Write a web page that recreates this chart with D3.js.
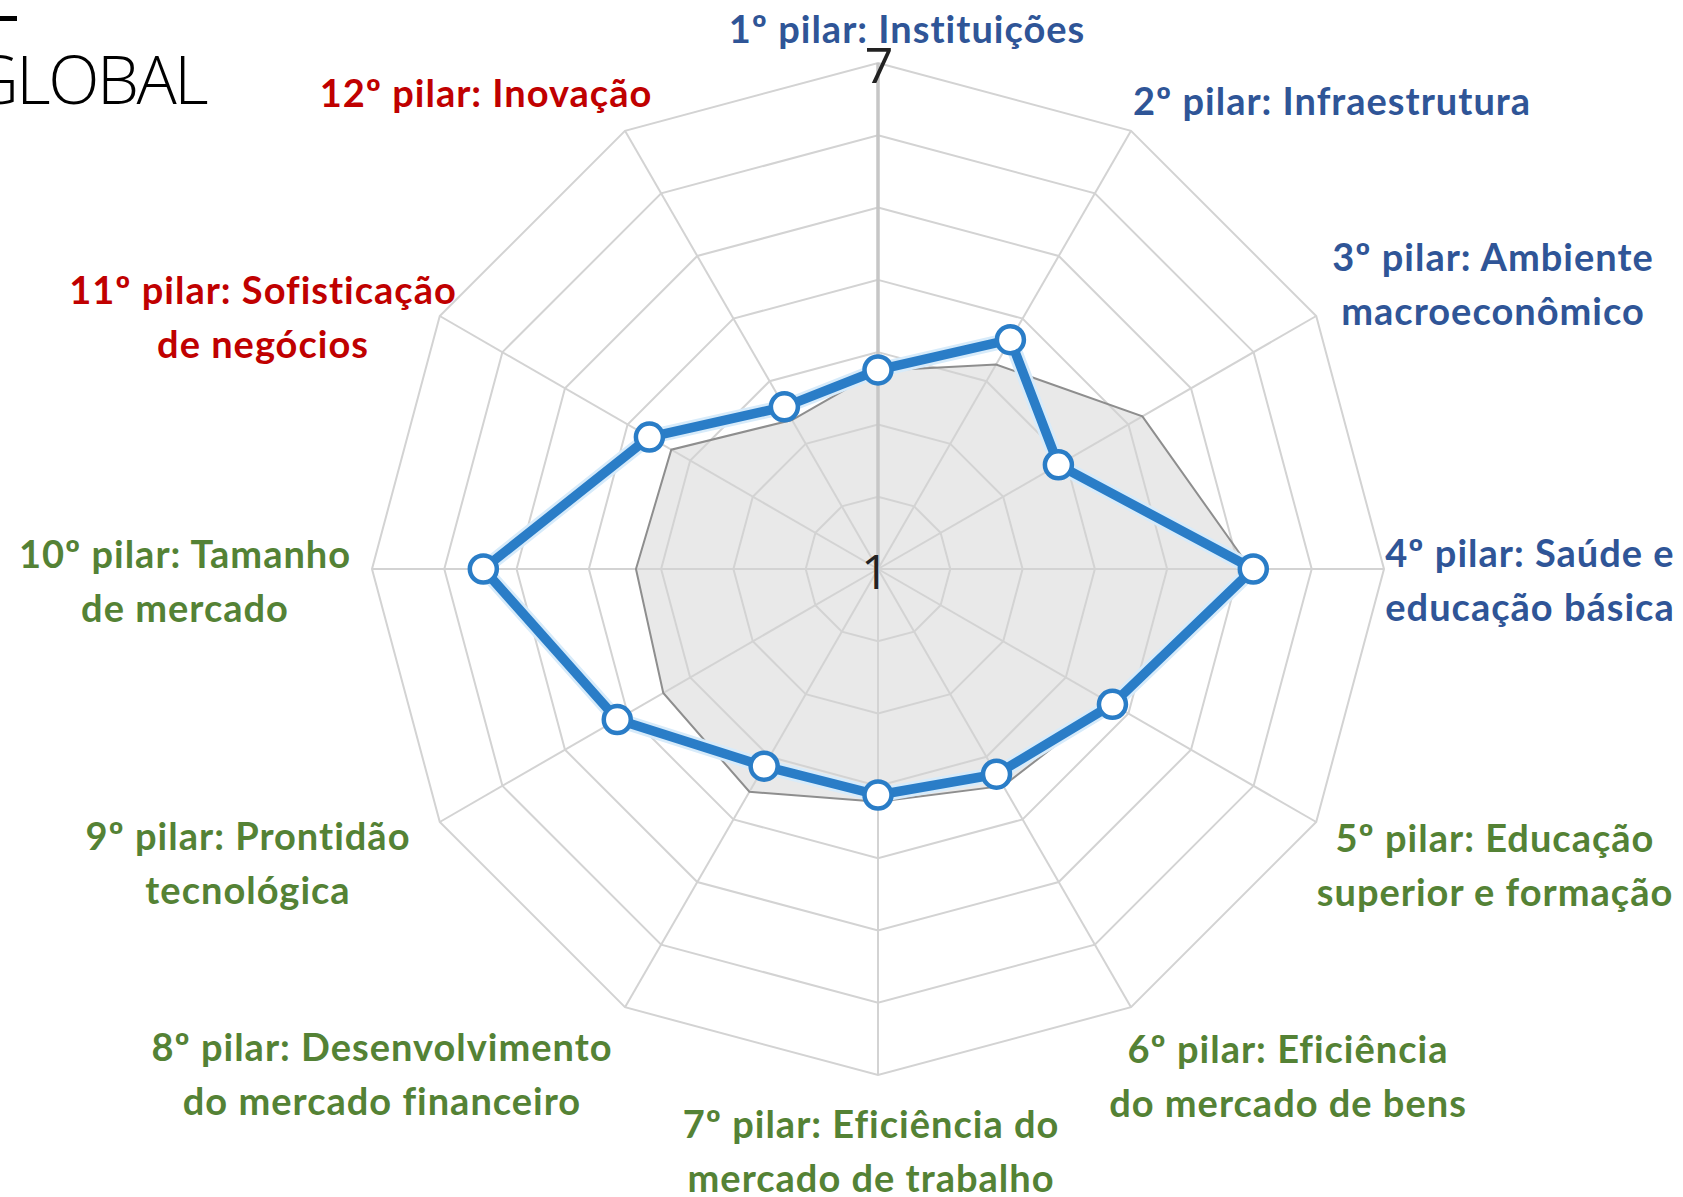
<!DOCTYPE html>
<html>
<head>
<meta charset="utf-8">
<script src="https://cdn.jsdelivr.net/npm/d3@7"></script>
<style>
  html, body { margin: 0; padding: 0; background: #fff; }
  svg { display: block; }
</style>
</head>
<body>
<div id="chart"></div>
<script>
// pillar names, one entry per text line
var pillars = [
  ["1º pilar: Instituições"],
  ["2º pilar: Infraestrutura"],
  ["3º pilar: Ambiente", "macroeconômico"],
  ["4º pilar: Saúde e", "educação básica"],
  ["5º pilar: Educação", "superior e formação"],
  ["6º pilar: Eficiência", "do mercado de bens"],
  ["7º pilar: Eficiência do", "mercado de trabalho"],
  ["8º pilar: Desenvolvimento", "do mercado financeiro"],
  ["9º pilar: Prontidão", "tecnológica"],
  ["10º pilar: Tamanho", "de mercado"],
  ["11º pilar: Sofisticação", "de negócios"],
  ["12º pilar: Inovação"]
]

// group of each pillar (drives label colour)
var groups = ["basic", "basic", "basic", "basic",
              "efficiency", "efficiency", "efficiency", "efficiency", "efficiency", "efficiency",
              "innovation", "innovation"]

// scores (1-7 scale)
var seriesBlue = [3.36, 4.14, 3.47, 5.45, 4.21, 3.81, 3.68, 3.70, 4.57, 5.68, 4.13, 3.22]
var seriesGray = [3.35, 3.80, 4.62, 5.42, 4.18, 3.97, 3.76, 4.05, 3.94, 3.87, 3.83, 3.04]

var scaleMin = 1, scaleMax = 7, ringCount = 7
var tickLabels = ["1", "7"]

/////////////////////////////////////////////////////////
// layout
/////////////////////////////////////////////////////////
var width = 1683, height = 1197
var cx = 878, cy = 569, R = 506

// label centre offsets from the chart centre
var labelOffsets = [
  [29, -539], [454, -467], [615, -284], [652, 12],
  [617, 297], [410, 508], [-7, 583], [-496, 506],
  [-630, 295], [-693, 13], [-615, -251], [-392, -475]
]
var lineGap = 54

var colors = { basic: "#2f5597", efficiency: "#548235", innovation: "#c00000" }

var svg = d3.select("#chart").append("svg")
    .attr("width", width)
    .attr("height", height)

svg.append("rect")
    .attr("width", width)
    .attr("height", height)
    .attr("fill", "#fff")

var g = svg.append("g")
    .attr("transform", "translate(" + cx + "," + cy + ")")

var n = pillars.length
var step = 2 * Math.PI / n

var r = d3.scaleLinear()
    .domain([scaleMin, scaleMax])
    .range([0, R])

var radar = d3.lineRadial()
    .angle(function(d, i) { return i * step })
    .radius(function(d) { return r(d) })
    .curve(d3.curveLinearClosed)

// gray series fill
g.append("path")
    .attr("d", radar(seriesGray))
    .attr("fill", "#e9e9e9")

// rings
var levels = d3.range(1, ringCount + 1).map(function(k) {
  return scaleMin + k * (scaleMax - scaleMin) / ringCount
})

g.selectAll(".ring")
    .data(levels)
  .enter().append("path")
    .attr("class", "ring")
    .attr("d", function(v) { return radar(pillars.map(function() { return v })) })
    .attr("fill", "none")
    .attr("stroke", "#d3d3d3")
    .attr("stroke-width", 2)

// spokes
g.selectAll(".spoke")
    .data(pillars)
  .enter().append("line")
    .attr("class", "spoke")
    .attr("x1", 0)
    .attr("y1", 0)
    .attr("x2", function(d, i) { return R * Math.sin(i * step) })
    .attr("y2", function(d, i) { return -R * Math.cos(i * step) })
    .attr("stroke", function(d, i) { return i === 0 ? "#c6c6c6" : "#d3d3d3" })
    .attr("stroke-width", function(d, i) { return i === 0 ? 3.5 : 2 })

// gray series outline
g.append("path")
    .attr("d", radar(seriesGray))
    .attr("fill", "none")
    .attr("stroke", "#8e8e8e")
    .attr("stroke-width", 2)

// blue series, soft halo then line
g.append("path")
    .attr("d", radar(seriesBlue))
    .attr("fill", "none")
    .attr("stroke", "#d7ebfa")
    .attr("stroke-width", 15)
    .attr("stroke-linejoin", "round")

g.append("path")
    .attr("d", radar(seriesBlue))
    .attr("fill", "none")
    .attr("stroke", "#2a7dc7")
    .attr("stroke-width", 9.5)
    .attr("stroke-linejoin", "round")

g.selectAll(".marker")
    .data(seriesBlue)
  .enter().append("circle")
    .attr("class", "marker")
    .attr("cx", function(d, i) { return r(d) * Math.sin(i * step) })
    .attr("cy", function(d, i) { return -r(d) * Math.cos(i * step) })
    .attr("r", 13.5)
    .attr("fill", "#fff")
    .attr("stroke", "#2a7dc7")
    .attr("stroke-width", 4.5)

// value axis labels
g.append("text")
    .attr("x", -3)
    .attr("y", 20)
    .attr("text-anchor", "middle")
    .style("font-family", "'Open Sans', sans-serif")
    .style("font-weight", 400)
    .style("font-size", "48px")
    .attr("fill", "#222")
    .text(tickLabels[0])

g.append("text")
    .attr("x", 1)
    .attr("y", -r(scaleMax) + 20)
    .attr("text-anchor", "middle")
    .style("font-family", "'Open Sans', sans-serif")
    .style("font-weight", 400)
    .style("font-size", "50px")
    .attr("fill", "#222")
    .text(tickLabels[1])

// pillar labels
var labels = g.selectAll(".label")
    .data(pillars)
  .enter().append("text")
    .attr("class", "label")
    .attr("text-anchor", "middle")
    .style("font-family", "Lato, 'Open Sans', sans-serif")
    .style("font-weight", 700)
    .style("font-size", "38px")
    .style("letter-spacing", "1px")
    .attr("fill", function(d, i) { return colors[groups[i]] })

labels.each(function(d, i) {
  var t = d3.select(this)
  var off = labelOffsets[i]
  var top = off[1] - (d.length - 1) * lineGap / 2 + 13
  d.forEach(function(line, k) {
    t.append("tspan")
        .attr("x", off[0])
        .attr("y", top + k * lineGap)
        .text(line)
  })
})

// cropped slide title
svg.append("text")
    .attr("x", 206)
    .attr("y", 104)
    .attr("text-anchor", "end")
    .style("font-family", "'Open Sans', sans-serif")
    .style("font-weight", 300)
    .style("font-size", "67px")
    .style("letter-spacing", "-2.5px")
    .attr("fill", "#000")
    .text("GLOBAL")

svg.append("rect")
    .attr("x", 0)
    .attr("y", 16)
    .attr("width", 17)
    .attr("height", 5)
    .attr("fill", "#000")
</script>
</body>
</html>
